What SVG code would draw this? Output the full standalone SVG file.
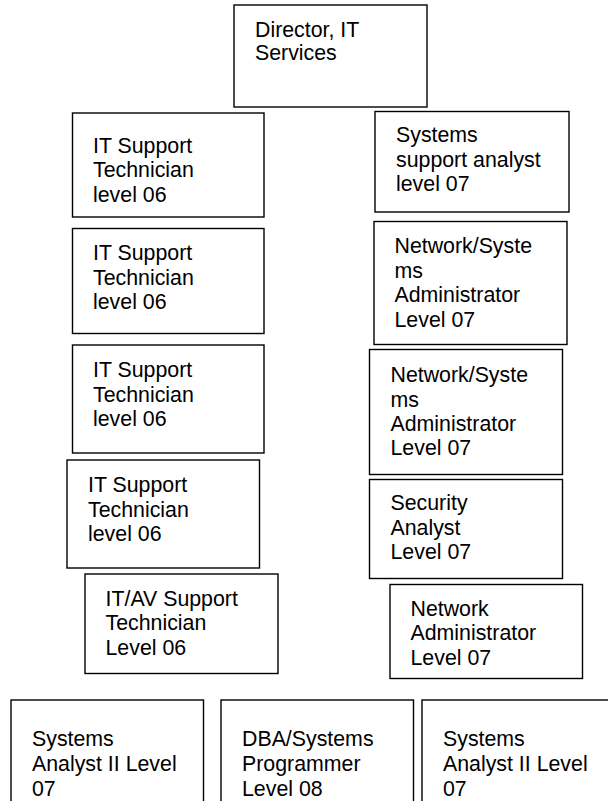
<svg xmlns="http://www.w3.org/2000/svg" width="608" height="801" viewBox="0 0 608 801">
<style>
rect.box{fill:#fff;stroke:#000;stroke-width:1.4}
text{font-family:"Liberation Sans",Arial,sans-serif;font-size:21.33px;fill:#000}
</style>
<rect width="608" height="801" fill="#fff"/>
<g id="director"><rect class="box" x="234" y="5" width="193" height="102"/>
<text x="255" y="37">Director, IT</text><text x="255" y="60">Services</text></g>
<g id="its1"><rect class="box" x="72.5" y="113" width="191.5" height="104"/>
<text x="93" y="152.5">IT Support</text><text x="93" y="177">Technician</text><text x="93" y="201.5">level 06</text></g>
<g id="ssa"><rect class="box" x="375" y="111.5" width="194" height="100.5"/>
<text x="396" y="142">Systems</text><text x="396" y="166.5">support analyst</text><text x="396" y="191">level 07</text></g>
<g id="its2"><rect class="box" x="72.5" y="228.5" width="191.5" height="105"/>
<text x="93" y="260">IT Support</text><text x="93" y="284.5">Technician</text><text x="93" y="309">level 06</text></g>
<g id="nsa1"><rect class="box" x="374" y="221.5" width="193" height="123"/>
<text x="394.5" y="253">Network/Syste</text><text x="394.5" y="277.5">ms</text><text x="394.5" y="302">Administrator</text><text x="394.5" y="326.5">Level 07</text></g>
<g id="its3"><rect class="box" x="72.5" y="345" width="191.5" height="108"/>
<text x="93" y="377">IT Support</text><text x="93" y="401.5">Technician</text><text x="93" y="426">level 06</text></g>
<g id="nsa2"><rect class="box" x="369.5" y="349.5" width="193" height="125"/>
<text x="390.5" y="382">Network/Syste</text><text x="390.5" y="406.5">ms</text><text x="390.5" y="431">Administrator</text><text x="390.5" y="455">Level 07</text></g>
<g id="its4"><rect class="box" x="67" y="460" width="192.5" height="108"/>
<text x="88" y="492">IT Support</text><text x="88" y="516.5">Technician</text><text x="88" y="541">level 06</text></g>
<g id="security"><rect class="box" x="369.5" y="479.5" width="193" height="99"/>
<text x="390.5" y="510">Security</text><text x="390.5" y="534.5">Analyst</text><text x="390.5" y="559">Level 07</text></g>
<g id="itav"><rect class="box" x="85" y="574" width="193" height="99.5"/>
<text x="105.5" y="605.5">IT/AV Support</text><text x="105.5" y="630">Technician</text><text x="105.5" y="654.5">Level 06</text></g>
<g id="netadmin"><rect class="box" x="390" y="584.5" width="192.5" height="94"/>
<text x="410.5" y="615.5">Network</text><text x="410.5" y="640">Administrator</text><text x="410.5" y="664.5">Level 07</text></g>
<g id="sa2a"><rect class="box" x="11" y="700" width="192.5" height="110"/>
<text x="32" y="746">Systems</text><text x="32" y="770.5">Analyst II Level</text><text x="32" y="795.5">07</text></g>
<g id="dba"><rect class="box" x="221" y="700" width="192.5" height="110"/>
<text x="242" y="746">DBA/Systems</text><text x="242" y="770.5">Programmer</text><text x="242" y="795.5">Level 08</text></g>
<g id="sa2b"><rect class="box" x="422" y="700" width="192" height="110"/>
<text x="443" y="746">Systems</text><text x="443" y="770.5">Analyst II Level</text><text x="443" y="795.5">07</text></g>
</svg>
